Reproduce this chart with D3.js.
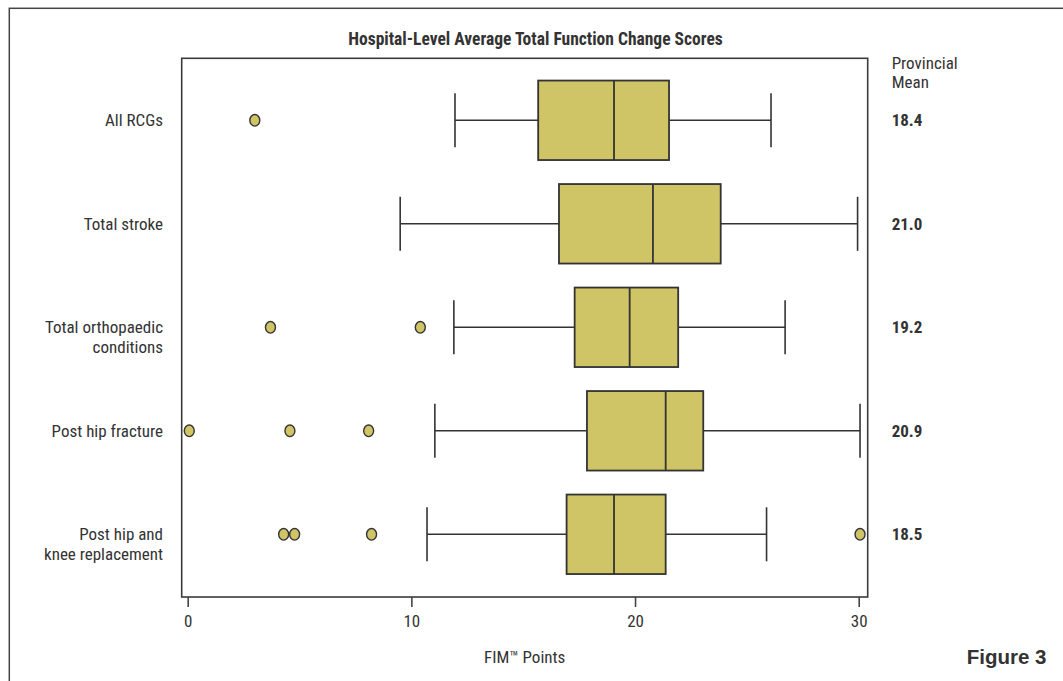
<!DOCTYPE html>
<html>
<head>
<meta charset="utf-8">
<script src="https://cdn.jsdelivr.net/npm/d3@7"></script>
<style>
  html, body { margin: 0; padding: 0; background: #fff; }
  svg { display: block; }
  .cond { font-family: "Liberation Sans Narrow", "Arial Narrow", "Roboto", sans-serif; font-stretch: condensed; }
</style>
</head>
<body>
<div id="chart"></div>
<script>
/* ── Data ─────────────────────────────────────────────── */

const categories = [
  ["All RCGs"],
  ["Total stroke"],
  ["Total orthopaedic", "conditions"],
  ["Post hip fracture"],
  ["Post hip and", "knee replacement"]
];
const lowerWhisker = [11.95, 9.5, 11.9, 11.05, 10.7];
const q1Values     = [15.67, 16.6, 17.3, 17.85, 16.94];
const medianValues = [19.06, 20.8, 19.76, 21.37, 19.06];
const q3Values     = [21.52, 23.83, 21.93, 23.05, 21.37];
const upperWhisker = [26.08, 29.95, 26.71, 30.06, 25.88];
const outliers = [
  [3.0],
  [],
  [3.7, 10.4],
  [0.07, 4.57, 8.09],
  [4.29, 4.78, 8.22, 30.06]
];
const provincialMean = ["18.4", "21.0", "19.2", "20.9", "18.5"];
const xTicks = [0, 10, 20, 30];

/* ── Layout ───────────────────────────────────────────── */

const W = 1063, H = 681;
const frame = { left: 181.7, right: 867.7, top: 58.3, bottom: 597 };
const ink = '#333333';
const fill = '#cfc466';
const fs = '17px';

const svg = d3.select('#chart').append('svg')
  .attr('width', W).attr('height', H);

svg.append('rect').attr('width', W).attr('height', H).attr('fill', '#fff');

// outer page border (left + top visible)
svg.append('rect')
  .attr('x', 9.3).attr('y', 8.3)
  .attr('width', W + 20).attr('height', H + 20)
  .attr('fill', 'none').attr('stroke', '#444').attr('stroke-width', 1.5);

const x = d3.scaleLinear().domain([0, 30]).range([187.7, 858.7]);
const y = d3.scalePoint().domain(d3.range(categories.length)).range([120.3, 534.3]);

const boxH = 79.5, capH = 54, rx = 5, ry = 5.8;

// plot frame
svg.append('rect')
  .attr('x', frame.left).attr('y', frame.top)
  .attr('width', frame.right - frame.left).attr('height', frame.bottom - frame.top)
  .attr('fill', 'none').attr('stroke', '#3a3a3a').attr('stroke-width', 1.6);

// x axis
const xAxis = svg.append('g')
  .attr('transform', `translate(0,${frame.bottom})`)
  .call(d3.axisBottom(x).tickValues(xTicks).tickSize(10).tickPadding(8).tickFormat(d3.format('d')));
xAxis.select('.domain').remove();
xAxis.selectAll('.tick line').attr('stroke', '#444').attr('stroke-width', 1.6);
xAxis.selectAll('.tick text')
  .attr('class', 'cond').attr('fill', ink).style('font-size', fs);

/* ── Boxes ────────────────────────────────────────────── */

const rows = svg.append('g').selectAll('g')
  .data(categories.map((c, i) => i))
  .join('g')
  .attr('transform', i => `translate(0,${y(i)})`);

// whiskers
rows.append('line')
  .attr('x1', i => x(lowerWhisker[i])).attr('x2', i => x(q1Values[i]))
  .attr('stroke', ink).attr('stroke-width', 1.6);
rows.append('line')
  .attr('x1', i => x(q3Values[i])).attr('x2', i => x(upperWhisker[i]))
  .attr('stroke', ink).attr('stroke-width', 1.6);
rows.append('line')
  .attr('x1', i => x(lowerWhisker[i])).attr('x2', i => x(lowerWhisker[i]))
  .attr('y1', -capH / 2).attr('y2', capH / 2)
  .attr('stroke', ink).attr('stroke-width', 1.6);
rows.append('line')
  .attr('x1', i => x(upperWhisker[i])).attr('x2', i => x(upperWhisker[i]))
  .attr('y1', -capH / 2).attr('y2', capH / 2)
  .attr('stroke', ink).attr('stroke-width', 1.6);

// box + median
rows.append('rect')
  .attr('x', i => x(q1Values[i]))
  .attr('width', i => x(q3Values[i]) - x(q1Values[i]))
  .attr('y', -boxH / 2).attr('height', boxH)
  .attr('fill', fill).attr('stroke', ink).attr('stroke-width', 1.8);
rows.append('line')
  .attr('x1', i => x(medianValues[i])).attr('x2', i => x(medianValues[i]))
  .attr('y1', -boxH / 2).attr('y2', boxH / 2)
  .attr('stroke', ink).attr('stroke-width', 1.8);

// outliers
rows.selectAll('ellipse')
  .data(i => outliers[i])
  .join('ellipse')
  .attr('cx', d => x(d)).attr('cy', 0)
  .attr('rx', rx).attr('ry', ry)
  .attr('fill', fill).attr('stroke', ink).attr('stroke-width', 1.4);

// category labels (first line on the row centre)
rows.append('text')
  .attr('class', 'cond')
  .attr('text-anchor', 'end')
  .attr('fill', ink)
  .style('font-size', fs)
  .selectAll('tspan')
  .data(i => categories[i])
  .join('tspan')
  .attr('x', 163)
  .attr('y', (d, k) => 6 + k * 19.5)
  .text(d => d);

// provincial means
rows.append('text')
  .attr('class', 'cond')
  .attr('x', 891.7).attr('y', 6)
  .attr('fill', ink)
  .style('font-size', fs).style('font-weight', 'bold')
  .text(i => provincialMean[i]);

/* ── Titles ───────────────────────────────────────────── */

svg.append('text')
  .attr('class', 'cond')
  .attr('x', 535.5).attr('y', 45)
  .attr('text-anchor', 'middle').attr('fill', ink)
  .style('font-size', '17.5px').style('font-weight', 'bold')
  .text('Hospital-Level Average Total Function Change Scores');

const pm = svg.append('text')
  .attr('class', 'cond').attr('fill', ink).style('font-size', fs);
pm.append('tspan').attr('x', 891.7).attr('y', 69).text('Provincial');
pm.append('tspan').attr('x', 891.7).attr('y', 87.5).text('Mean');

svg.append('text')
  .attr('class', 'cond')
  .attr('x', 524.7).attr('y', 663)
  .attr('text-anchor', 'middle').attr('fill', ink)
  .style('font-size', fs)
  .text('FIM™ Points');

svg.append('text')
  .attr('x', 1046.5).attr('y', 664)
  .attr('text-anchor', 'end').attr('fill', ink)
  .style('font-family', '"Liberation Sans", Arial, sans-serif')
  .style('font-size', '20.5px').style('font-weight', 'bold')
  .text('Figure 3');
</script>
</body>
</html>
